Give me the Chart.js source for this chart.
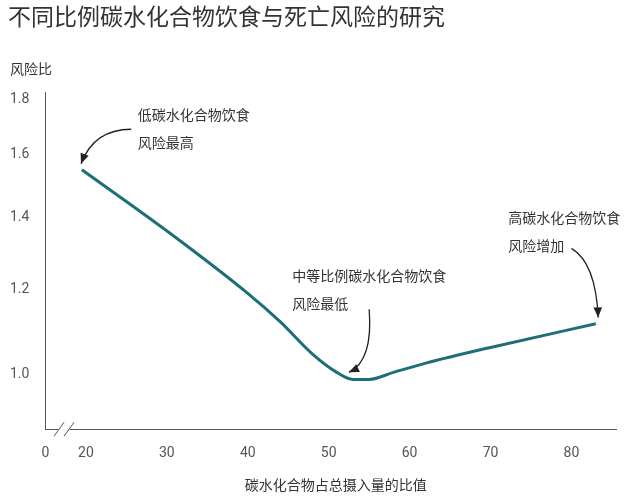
<!DOCTYPE html>
<html>
<head>
<meta charset="utf-8">
<script src="https://cdn.jsdelivr.net/npm/chart.js@4"></script>
<style>
  body { margin: 0; background: #fff; }
  #wrap { width: 640px; height: 500px; }
</style>
</head>
<body>
<div id="wrap"><canvas id="myChart" width="640" height="500"></canvas></div>
<script>
const chartTitle = '不同比例碳水化合物饮食与死亡风险的研究';
const yTitle = '风险比';
const xTitle = '碳水化合物占总摄入量的比值';
const carbShare = [19.5, 30, 40, 44, 48, 51, 53, 55, 58, 62, 70, 83];
const hazardRatio = [1.55, 1.36, 1.19, 1.12, 1.045, 1.005, 0.99, 0.99, 1.005, 1.025, 1.06, 1.115];
const xTicks = [15, 20, 30, 40, 50, 60, 70, 80];
const yTicks = [1.0, 1.2, 1.4, 1.6, 1.8];
// label lines, anchor (data units), arrow start/end/bend (data units)
const notes = [
    { lines: ['低碳水化合物饮食', '风险最高'], at: [26.4, 1.77], from: [25.6, 1.69], to: [19.4, 1.57], bend: [21, 1.69] },
    { lines: ['中等比例碳水化合物饮食', '风险最低'], at: [45.5, 1.255], from: [55, 1.15], to: [52.5, 1.005], bend: [55.5, 1.03] },
    { lines: ['高碳水化合物饮食', '风险增加'], at: [72.2, 1.42], from: [80, 1.31], to: [83.3, 1.13], bend: [83, 1.27] }
];

const teal = '#1d6f77';
const grey = '#555';

const decor = {
    id: 'decor',
    afterDraw(chart) {
        const c = chart.ctx, xs = chart.scales.x, ys = chart.scales.y;
        const px = p => [xs.getPixelForValue(p[0]), ys.getPixelForValue(p[1])];
        c.save();
        c.fillStyle = '#333';
        c.font = '23px "Noto Sans CJK SC"';
        c.textBaseline = 'top';
        c.fillText(chartTitle, 8, 5);
        c.font = '14px "Noto Sans CJK SC"';
        c.fillText(yTitle, 10, 62);
        c.textAlign = 'center';
        c.fillText(xTitle, (xs.left + xs.right) / 2 + 5, 478);
        c.textAlign = 'left';
        notes.forEach(n => {
            const [ax, ay] = px(n.at);
            n.lines.forEach((t, i) => c.fillText(t, ax, ay + i * 28));
            const [fx, fy] = px(n.from), [tx, ty] = px(n.to), [bx, by] = px(n.bend);
            c.strokeStyle = '#222';
            c.lineWidth = 1.3;
            c.beginPath();
            c.moveTo(fx, fy);
            c.quadraticCurveTo(bx, by, tx, ty);
            c.stroke();
            const ang = Math.atan2(ty - by, tx - bx);
            c.fillStyle = '#222';
            c.beginPath();
            c.moveTo(tx, ty);
            c.lineTo(tx - 11 * Math.cos(ang - 0.4), ty - 11 * Math.sin(ang - 0.4));
            c.lineTo(tx - 11 * Math.cos(ang + 0.4), ty - 11 * Math.sin(ang + 0.4));
            c.closePath();
            c.fill();
            c.fillStyle = '#333';
        });
        // axis break
        const by0 = ys.bottom, bx0 = xs.getPixelForValue(17.3);
        c.fillStyle = '#fff';
        c.fillRect(bx0 - 6, by0 - 3, 12, 6);
        c.strokeStyle = grey;
        c.lineWidth = 1;
        [-5, 5].forEach(d => {
            c.beginPath();
            c.moveTo(bx0 + d - 5, by0 + 7);
            c.lineTo(bx0 + d + 5, by0 - 7);
            c.stroke();
        });
        c.restore();
    }
};

new Chart(document.getElementById('myChart').getContext('2d'), {
    type: 'line',
    data: {
        labels: carbShare,
        datasets: [{
            data: carbShare.map((x, i) => ({ x: x, y: hazardRatio[i] })),
            borderColor: teal,
            borderWidth: 3,
            pointRadius: 0,
            cubicInterpolationMode: 'monotone',
            fill: false
        }]
    },
    options: {
        responsive: false,
        animation: false,
        layout: { padding: { top: 92, left: 2, right: 24, bottom: 30 } },
        plugins: { legend: { display: false }, tooltip: { enabled: false } },
        scales: {
            x: {
                type: 'linear',
                min: 15,
                max: 85.5,
                afterBuildTicks: s => { s.ticks = xTicks.map(v => ({ value: v })); },
                ticks: {
                    color: grey,
                    font: { family: 'Roboto', size: 14 },
                    callback: v => v === 15 ? '0' : v,
                    padding: 8
                },
                grid: { display: false },
                border: { color: grey, width: 1 }
            },
            y: {
                type: 'logarithmic',
                min: 0.89,
                max: 1.83,
                afterBuildTicks: s => { s.ticks = yTicks.map(v => ({ value: v })); },
                ticks: {
                    color: grey,
                    font: { family: 'Roboto', size: 14 },
                    callback: v => v.toFixed(1),
                    padding: 8
                },
                grid: { display: false },
                border: { color: grey, width: 1 }
            }
        }
    },
    plugins: [decor]
});
</script>
</body>
</html>
